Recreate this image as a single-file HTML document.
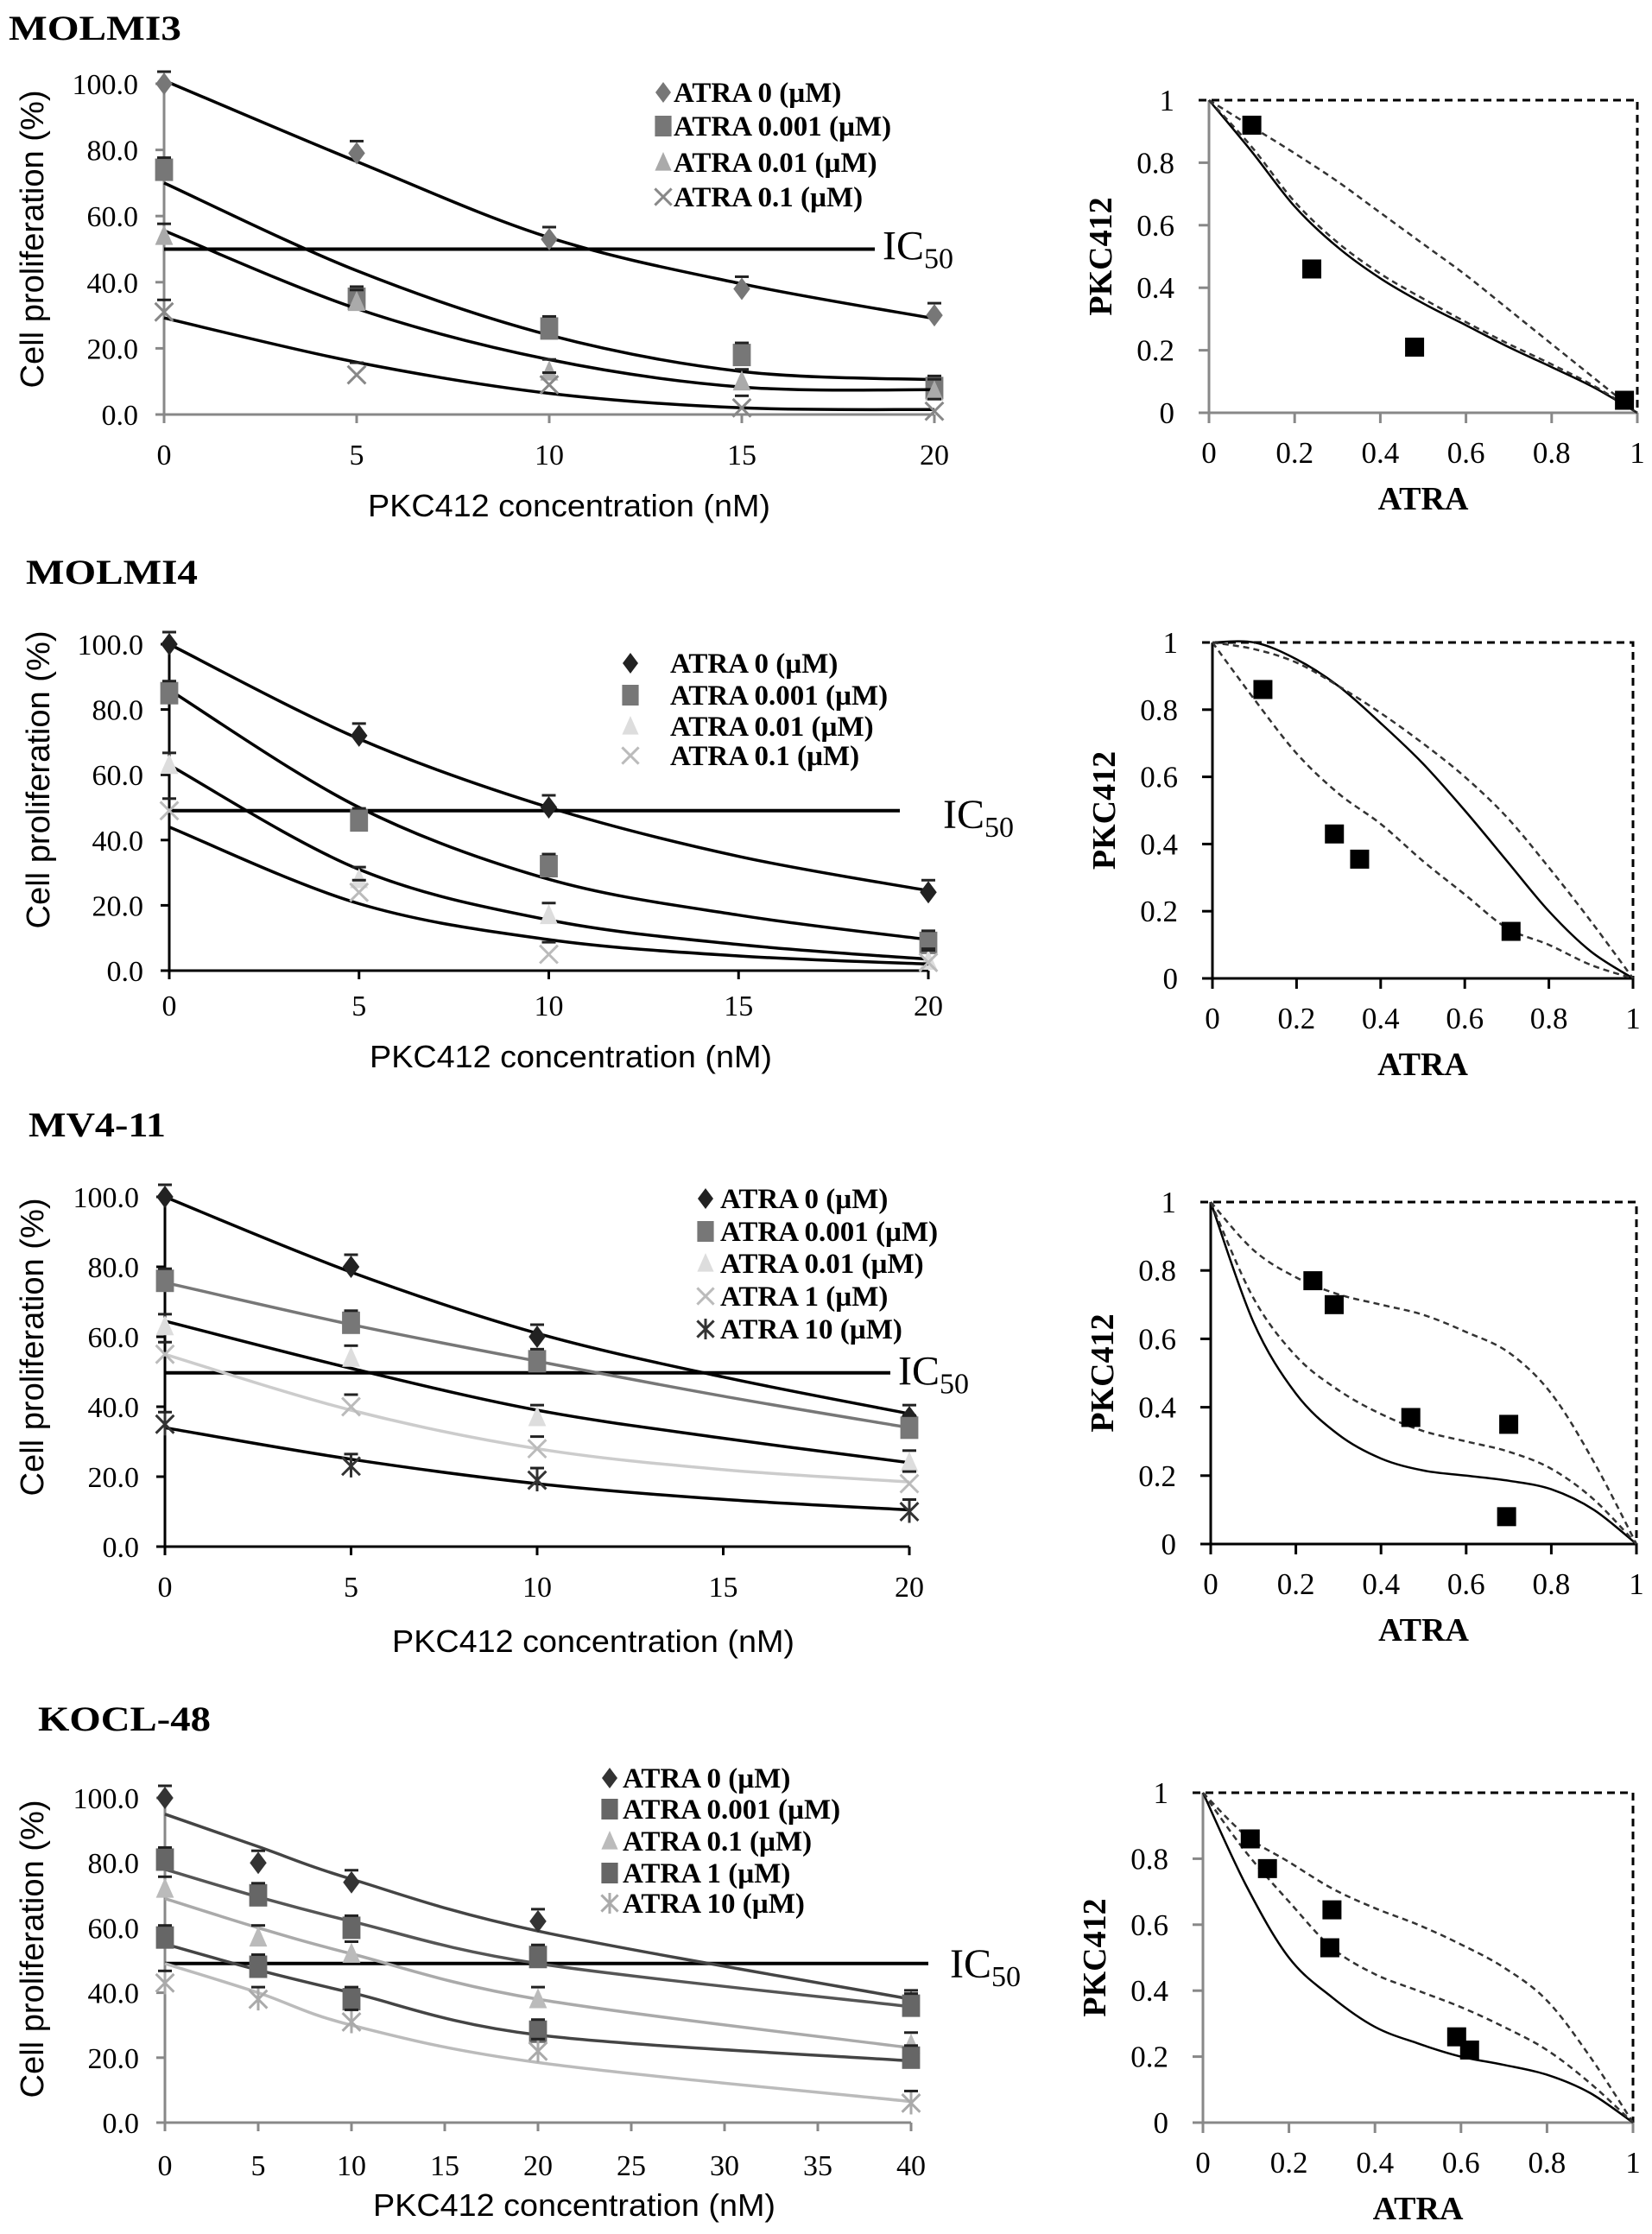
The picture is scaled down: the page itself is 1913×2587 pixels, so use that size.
<!DOCTYPE html>
<html><head><meta charset="utf-8">
<style>
html,body{margin:0;padding:0;background:#fff;}
svg{display:block;}
</style></head>
<body>
<svg id="fig" width="1913" height="2587" viewBox="0 0 1913 2587" xmlns="http://www.w3.org/2000/svg"></svg>
<script>
// ---------- DATA ----------
// Panel 1: MOLMI3
const p1X = [0, 5, 10, 15, 20];
const p1Series = ["ATRA 0  (µM)", "ATRA 0.001  (µM)", "ATRA 0.01  (µM)", "ATRA 0.1  (µM)"];
const p1Pts0 = [100, 79, 53, 38, 30];
const p1Pts1 = [74, 35, 26, 18, 8];
const p1Pts2 = [54, 34, 13, 10, 7];
const p1Pts3 = [31, 12, 9, 2, 1];
const p1Fit0 = [101, 76.5, 53.5, 39.5, 29];
const p1Fit1 = [70, 43.5, 24, 13, 10.5];
const p1Fit2 = [55.6, 32, 16.6, 8.3, 7.5];
const p1Fit3 = [29.2, 15.8, 6.4, 2, 1.5];
// Panel 2: MOLMI4
const p2X = [0, 5, 10, 20];
const p2Series = ["ATRA 0  (µM)", "ATRA 0.001  (µM)", "ATRA 0.01  (µM)", "ATRA 0.1  (µM)"];
const p2Pts0 = [100, 72, 50, 24];
const p2Pts1 = [85, 46, 32, 8.5];
const p2Pts2 = [63, 28, 17, 3];
const p2Pts3 = [49, 24, 5, 2.5];
const p2FitX = [0, 5, 10, 15, 20];
const p2Fit0 = [100, 71, 50, 35, 24.5];
const p2Fit1 = [86, 50, 28, 17, 9.5];
const p2Fit2 = [63, 31, 15.5, 8, 3.5];
const p2Fit3 = [44, 20.5, 9.5, 4.5, 2];
// Panel 3: MV4-11
const p3X = [0, 5, 10, 20];
const p3Series = ["ATRA 0  (µM)", "ATRA 0.001  (µM)", "ATRA 0.01  (µM)", "ATRA 1  (µM)", "ATRA 10  (µM)"];
const p3Pts0 = [100, 80, 60, 37];
const p3Pts1 = [76, 64, 53, 34];
const p3Pts2 = [63, 54, 37, 24];
const p3Pts3 = [55, 40, 28, 18];
const p3Pts4 = [35, 23, 19, 10];
const p3FitX = [0, 5, 10, 15, 20];
const p3Fit0 = [100, 78.5, 61, 48.5, 38];
const p3Fit1 = [75.5, 63.5, 53, 43, 34];
const p3Fit2 = [64.5, 51, 39, 31, 24];
const p3Fit3 = [55, 39, 28, 22, 18.5];
const p3Fit4 = [34, 25, 18, 13.5, 10.5];
// Panel 4: KOCL-48
const p4X = [0, 5, 10, 20, 40];
const p4Series = ["ATRA 0  (µM)", "ATRA 0.001  (µM)", "ATRA 0.1  (µM)", "ATRA 1  (µM)", "ATRA 10  (µM)"];
const p4Pts0 = [100, 80, 74, 62, 37];
const p4Pts1 = [81, 70, 60, 51, 36];
const p4Pts2 = [72, 57, 52, 38, 24];
const p4Pts3 = [57, 48, 38, 28, 20];
const p4Pts4 = [43, 38, 31, 22, 6];
const p4Fit0 = [95, 85, 75, 59, 38];
const p4Fit1 = [78, 69.5, 62, 49, 35.7];
const p4Fit2 = [69, 60, 52, 38, 23];
const p4Fit3 = [55, 47, 40, 27, 19];
const p4Fit4 = [49, 40, 30, 18.5, 6.5];
// Isobolograms
const isoX = [0, 0.1, 0.2, 0.3, 0.4, 0.5, 0.6, 0.7, 0.8, 0.9, 1];
const i1PtsX = [0.1, 0.24, 0.48, 0.97];
const i1PtsY = [0.92, 0.46, 0.21, 0.04];
const i1Solid = [1, 0.835, 0.66, 0.53, 0.43, 0.35, 0.28, 0.21, 0.146, 0.08, 0];
const i1DashA = [1, 0.85, 0.675, 0.545, 0.445, 0.365, 0.29, 0.22, 0.155, 0.085, 0];
const i1DashB = [1, 0.915, 0.83, 0.74, 0.64, 0.54, 0.44, 0.33, 0.22, 0.11, 0];
const i2PtsX = [0.12, 0.29, 0.35, 0.71];
const i2PtsY = [0.86, 0.43, 0.355, 0.14];
const i2Solid = [1, 1.0, 0.95, 0.87, 0.76, 0.64, 0.5, 0.35, 0.2, 0.08, 0];
const i2DashA = [1, 0.83, 0.67, 0.55, 0.46, 0.35, 0.25, 0.15, 0.1, 0.04, 0];
const i2DashB = [1, 0.98, 0.94, 0.87, 0.79, 0.7, 0.6, 0.48, 0.33, 0.17, 0];
const i3PtsX = [0.24, 0.29, 0.47, 0.70, 0.695];
const i3PtsY = [0.77, 0.70, 0.37, 0.35, 0.08];
const i3Solid = [1, 0.65, 0.44, 0.32, 0.25, 0.215, 0.2, 0.185, 0.16, 0.1, 0];
const i3DashA = [1, 0.72, 0.55, 0.45, 0.38, 0.33, 0.3, 0.27, 0.22, 0.13, 0];
const i3DashB = [1, 0.86, 0.78, 0.73, 0.7, 0.67, 0.62, 0.56, 0.44, 0.24, 0];
const i4PtsX = [0.11, 0.15, 0.30, 0.295, 0.59, 0.62];
const i4PtsY = [0.86, 0.77, 0.645, 0.53, 0.26, 0.22];
const i4Solid = [1, 0.72, 0.5, 0.38, 0.29, 0.24, 0.2, 0.175, 0.145, 0.09, 0];
const i4DashA = [1, 0.82, 0.67, 0.53, 0.45, 0.4, 0.35, 0.29, 0.22, 0.12, 0];
const i4DashB = [1, 0.87, 0.79, 0.71, 0.65, 0.6, 0.54, 0.47, 0.37, 0.2, 0];
const yTicksPct = ["0.0", "20.0", "40.0", "60.0", "80.0", "100.0"];
const isoTicks = ["0", "0.2", "0.4", "0.6", "0.8", "1"];

// ---------- HELPERS ----------
const NS = "http://www.w3.org/2000/svg";
const svg = document.getElementById("fig");
function el(tag, attrs, parent) {
  const e = document.createElementNS(NS, tag);
  for (const k in attrs) e.setAttribute(k, attrs[k]);
  (parent || svg).appendChild(e);
  return e;
}
function txt(s, attrs, parent) { const t = el("text", attrs, parent); t.textContent = s; return t; }
function smooth(pts) {
  let d = "M" + pts[0][0].toFixed(1) + "," + pts[0][1].toFixed(1);
  for (let i = 0; i < pts.length - 1; i++) {
    const p0 = pts[Math.max(0, i - 1)], p1 = pts[i], p2 = pts[i + 1], p3 = pts[Math.min(pts.length - 1, i + 2)];
    const c1 = [p1[0] + (p2[0] - p0[0]) / 6, p1[1] + (p2[1] - p0[1]) / 6];
    const c2 = [p2[0] - (p3[0] - p1[0]) / 6, p2[1] - (p3[1] - p1[1]) / 6];
    d += " C" + c1.map(v => v.toFixed(1)) + " " + c2.map(v => v.toFixed(1)) + " " + p2.map(v => v.toFixed(1));
  }
  return d;
}
function marker(g, type, cx, cy, color, s) {
  let m;
  if (type === "diamond") m = el("path", { d: `M${cx},${cy - s} L${cx + s * 0.75},${cy} L${cx},${cy + s} L${cx - s * 0.75},${cy} Z`, fill: color }, g);
  else if (type === "square") m = el("rect", { x: cx - s * 0.8, y: cy - s, width: s * 1.6, height: s * 2, fill: color }, g);
  else if (type === "triangle") m = el("path", { d: `M${cx},${cy - s} L${cx + s * 0.8},${cy + s * 0.8} L${cx - s * 0.8},${cy + s * 0.8} Z`, fill: color }, g);
  else if (type === "cross") m = el("path", { d: `M${cx - s * 0.8},${cy - s * 0.8} L${cx + s * 0.8},${cy + s * 0.8} M${cx + s * 0.8},${cy - s * 0.8} L${cx - s * 0.8},${cy + s * 0.8}`, stroke: color, "stroke-width": 3, fill: "none" }, g);
  else m = el("path", { d: `M${cx - s * 0.8},${cy - s * 0.8} L${cx + s * 0.8},${cy + s * 0.8} M${cx + s * 0.8},${cy - s * 0.8} L${cx - s * 0.8},${cy + s * 0.8} M${cx},${cy - s} L${cx},${cy + s}`, stroke: color, "stroke-width": 3, fill: "none" }, g);
  return m;
}

function dosePanel(c) {
  const g = el("g", {});
  
  
  const sx = v => c.x0 + (v / c.xmax) * (c.x1 - c.x0);
  const sy = v => c.y0 - (v / 100) * (c.y0 - c.y100);
  const t = txt(c.title, { x: c.tx, y: c.ty, "font-family": "Liberation Serif, serif", "font-weight": "bold", "font-size": 40, textLength: c.tw, lengthAdjust: "spacingAndGlyphs" }, g);
  
  
  const ax = el("g", {}, g);
  
  
  el("line", { x1: c.x0, y1: sy(0), x2: c.x0, y2: sy(100), stroke: c.axis, "stroke-width": 3 }, ax);
  el("line", { x1: c.x0 - 10, y1: sy(0), x2: c.x1, y2: sy(0), stroke: c.axis, "stroke-width": 3 }, ax);
  yTicksPct.forEach((lab, i) => {
    const y = sy(i * 20);
    el("line", { x1: c.x0 - 10, y1: y, x2: c.x0, y2: y, stroke: c.axis, "stroke-width": 3 }, ax);
    const tl = txt(lab, { x: c.x0 - 30, y: y + 12, "text-anchor": "end", "font-family": "Liberation Serif, serif", "font-size": 34 }, ax);
    
    
  });
  c.xticks.forEach(v => {
    const x = sx(v);
    el("line", { x1: x, y1: sy(0), x2: x, y2: sy(0) + 10, stroke: c.axis, "stroke-width": 3 }, ax);
    const tl = txt(String(v), { x: x, y: c.xlabY, "text-anchor": "middle", "font-family": "Liberation Serif, serif", "font-size": 34 }, ax);
    
    
  });
  const xt = txt("PKC412 concentration (nM)", { x: c.xtx, y: c.xty, "text-anchor": "middle", "font-family": "Liberation Sans, sans-serif", "font-size": 36, textLength: 466, lengthAdjust: "spacingAndGlyphs" }, g);
  
  
  const yt = txt("Cell proliferation (%)", { x: 0, y: 0, "text-anchor": "middle", "font-family": "Liberation Sans, sans-serif", "font-size": 38, textLength: 345, lengthAdjust: "spacingAndGlyphs", transform: `translate(${c.ytx + 13},${c.yty}) rotate(-90)` }, g);
  
  
  const ic = el("line", { x1: c.x0, y1: sy(c.icv), x2: c.icEnd, y2: sy(c.icv), stroke: "#000", "stroke-width": 4 }, g);
  
  
  const icl = el("text", { x: c.icLab, y: sy(c.icv) + c.icDy, "font-family": "Liberation Serif, serif", "font-size": 48 }, g);
  
  
  icl.innerHTML = 'IC<tspan font-size="34" dy="10">50</tspan>';
  c.series.forEach((s, k) => {
    const sg = el("g", {}, g);
    
    
    const pts = s.fit.map((v, i) => [sx(c.fitX[i]), sy(v)]);
    el("path", { d: smooth(pts), fill: "none", stroke: s.lc, "stroke-width": 3.5 }, sg);
    s.pts.forEach((v, i) => {
      const m = marker(sg, s.m, sx(c.xs[i]), sy(v), s.mc, 13);
      
      
      el("line", { x1: sx(c.xs[i]) - 8, y1: sy(v) - 14, x2: sx(c.xs[i]) + 8, y2: sy(v) - 14, stroke: "#222", "stroke-width": 3 }, sg);
    });
    const ly = c.legY[k];
    const lm = marker(g, s.m, c.legMX, ly, s.mc, 12);
    
    
    const lt = txt(s.label, { x: c.legTX, y: ly + 11, "font-family": "Liberation Serif, serif", "font-weight": "bold", "font-size": 33, "xml:space": "preserve" }, g);
    
    
  });
}

function isoPanel(c) {
  const g = el("g", {});
  
  
  const sx = v => c.x0 + v * (c.x1 - c.x0);
  const sy = v => c.y0 - v * (c.y0 - c.y1);
  const ax = el("g", {}, g);
  
  
  el("line", { x1: c.x0, y1: c.y0, x2: c.x0, y2: c.y1, stroke: c.axis, "stroke-width": 3 }, ax);
  el("line", { x1: c.x0 - 12, y1: c.y0, x2: c.x1, y2: c.y0, stroke: c.axis, "stroke-width": 3 }, ax);
  el("path", { d: `M${c.x0 - 12},${c.y1} L${c.x1},${c.y1} L${c.x1},${c.y0}`, fill: "none", stroke: "#000", "stroke-width": 3, "stroke-dasharray": "9,6" }, ax);
  isoTicks.forEach((lab, i) => {
    const v = i * 0.2;
    if (i > 0 && i < 5) el("line", { x1: c.x0 - 12, y1: sy(v), x2: c.x0, y2: sy(v), stroke: c.axis, "stroke-width": 3 }, ax);
    el("line", { x1: sx(v), y1: c.y0, x2: sx(v), y2: c.y0 + 12, stroke: c.axis, "stroke-width": 3 }, ax);
    const a = txt(lab, { x: c.x0 - 40, y: sy(v) + 12, "text-anchor": "end", "font-family": "Liberation Serif, serif", "font-size": 35 }, ax);
    
    
    const b = txt(lab, { x: sx(v), y: c.y0 + 58, "text-anchor": "middle", "font-family": "Liberation Serif, serif", "font-size": 35 }, ax);
    
    
  });
  const xt = txt("ATRA", { x: (c.x0 + c.x1) / 2, y: c.y0 + 112, "text-anchor": "middle", "font-family": "Liberation Serif, serif", "font-weight": "bold", "font-size": 38 }, g);
  
  
  const yt = txt("PKC412", { x: 0, y: 0, "text-anchor": "middle", "font-family": "Liberation Serif, serif", "font-weight": "bold", "font-size": 38, transform: `translate(${c.x0 - 113},${(c.y0 + c.y1) / 2}) rotate(-90)` }, g);
  
  
  const curves = [[c.solid, "#000", null, 'additivity-line-solid'], [c.dashA, "#333", "7,5", 'additivity-line-dashed-inner'], [c.dashB, "#333", "7,5", 'additivity-line-dashed-outer']];
  curves.forEach(cv => {
    const p = el("path", { d: smooth(isoX.map((x, i) => [sx(x), sy(cv[0][i])])), fill: "none", stroke: cv[1], "stroke-width": 2.5 }, g);
    if (cv[2]) p.setAttribute("stroke-dasharray", cv[2]);
    
    
  });
  c.px.forEach((x, i) => {
    const r = el("rect", { x: sx(x) - 11, y: sy(c.py[i]) - 11, width: 22, height: 22, fill: "#000" }, g);
    
    
  });
}

// ---------- PANELS ----------
dosePanel({ name: "molm13-dose-chart", title: "MOLMI3", tx: 10, ty: 46, tw: 200, x0: 190, x1: 1082, xmax: 20, y0: 480, y100: 97, axis: "#888",
  xticks: [0, 5, 10, 15, 20], xs: p1X, fitX: p1X, xlabY: 538, xtx: 659, xty: 598, ytx: 37, yty: 277, icv: 50, icEnd: 1013, icLab: 1022, icDy: 12,
  legMX: 768, legTX: 780, legY: [107, 146, 188, 228],
  series: [
    { label: p1Series[0], pts: p1Pts0, fit: p1Fit0, m: "diamond", mc: "#777", lc: "#000" },
    { label: p1Series[1], pts: p1Pts1, fit: p1Fit1, m: "square", mc: "#777", lc: "#000" },
    { label: p1Series[2], pts: p1Pts2, fit: p1Fit2, m: "triangle", mc: "#aaa", lc: "#000" },
    { label: p1Series[3], pts: p1Pts3, fit: p1Fit3, m: "cross", mc: "#888", lc: "#000" }] });
isoPanel({ name: "molm13-isobologram", x0: 1400, x1: 1896, y1: 116, y0: 478, axis: "#888", px: i1PtsX, py: i1PtsY, solid: i1Solid, dashA: i1DashA, dashB: i1DashB });

dosePanel({ name: "molm14-dose-chart", title: "MOLMI4", tx: 30, ty: 676, tw: 199, x0: 196, x1: 1075, xmax: 20, y0: 1124, y100: 746, axis: "#000",
  xticks: [0, 5, 10, 15, 20], xs: p2X, fitX: p2FitX, xlabY: 1176, xtx: 661, xty: 1236, ytx: 44, yty: 903, icv: 49, icEnd: 1042, icLab: 1092, icDy: 20,
  legMX: 730, legTX: 776, legY: [768, 805, 841, 875],
  series: [
    { label: p2Series[0], pts: p2Pts0, fit: p2Fit0, m: "diamond", mc: "#222", lc: "#000" },
    { label: p2Series[1], pts: p2Pts1, fit: p2Fit1, m: "square", mc: "#777", lc: "#000" },
    { label: p2Series[2], pts: p2Pts2, fit: p2Fit2, m: "triangle", mc: "#ddd", lc: "#000" },
    { label: p2Series[3], pts: p2Pts3, fit: p2Fit3, m: "cross", mc: "#bbb", lc: "#000" }] });
isoPanel({ name: "molm14-isobologram", x0: 1404, x1: 1891, y1: 744, y0: 1133, axis: "#000", px: i2PtsX, py: i2PtsY, solid: i2Solid, dashA: i2DashA, dashB: i2DashB });

dosePanel({ name: "mv4-11-dose-chart", title: "MV4-11", tx: 33, ty: 1316, tw: 159, x0: 191, x1: 1053, xmax: 20, y0: 1791, y100: 1386, axis: "#000",
  xticks: [0, 5, 10, 15, 20], xs: p3X, fitX: p3FitX, xlabY: 1849, xtx: 687, xty: 1913, ytx: 37, yty: 1560, icv: 49.7, icEnd: 1031, icLab: 1040, icDy: 14,
  legMX: 817, legTX: 834, legY: [1388, 1426, 1463, 1501, 1539],
  series: [
    { label: p3Series[0], pts: p3Pts0, fit: p3Fit0, m: "diamond", mc: "#222", lc: "#000" },
    { label: p3Series[1], pts: p3Pts1, fit: p3Fit1, m: "square", mc: "#777", lc: "#777" },
    { label: p3Series[2], pts: p3Pts2, fit: p3Fit2, m: "triangle", mc: "#ddd", lc: "#000" },
    { label: p3Series[3], pts: p3Pts3, fit: p3Fit3, m: "cross", mc: "#bbb", lc: "#ccc" },
    { label: p3Series[4], pts: p3Pts4, fit: p3Fit4, m: "star", mc: "#333", lc: "#000" }] });
isoPanel({ name: "mv4-11-isobologram", x0: 1402, x1: 1895, y1: 1392, y0: 1788, axis: "#000", px: i3PtsX, py: i3PtsY, solid: i3Solid, dashA: i3DashA, dashB: i3DashB });

dosePanel({ name: "kocl-48-dose-chart", title: "KOCL-48", tx: 44, ty: 2004, tw: 200, x0: 191, x1: 1055, xmax: 40, y0: 2458, y100: 2082, axis: "#888",
  xticks: [0, 5, 10, 15, 20, 25, 30, 35, 40], xs: p4X, fitX: p4X, xlabY: 2519, xtx: 665, xty: 2566, ytx: 37, yty: 2257, icv: 49, icEnd: 1075, icLab: 1100, icDy: 16,
  legMX: 706, legTX: 721, legY: [2059, 2095, 2132, 2169, 2204],
  series: [
    { label: p4Series[0], pts: p4Pts0, fit: p4Fit0, m: "diamond", mc: "#333", lc: "#444" },
    { label: p4Series[1], pts: p4Pts1, fit: p4Fit1, m: "square", mc: "#666", lc: "#555" },
    { label: p4Series[2], pts: p4Pts2, fit: p4Fit2, m: "triangle", mc: "#bbb", lc: "#aaa" },
    { label: p4Series[3], pts: p4Pts3, fit: p4Fit3, m: "square", mc: "#666", lc: "#444" },
    { label: p4Series[4], pts: p4Pts4, fit: p4Fit4, m: "star", mc: "#aaa", lc: "#bbb" }] });
isoPanel({ name: "kocl-48-isobologram", x0: 1393, x1: 1891, y1: 2076, y0: 2458, axis: "#888", px: i4PtsX, py: i4PtsY, solid: i4Solid, dashA: i4DashA, dashB: i4DashB });
</script>
</body></html>
